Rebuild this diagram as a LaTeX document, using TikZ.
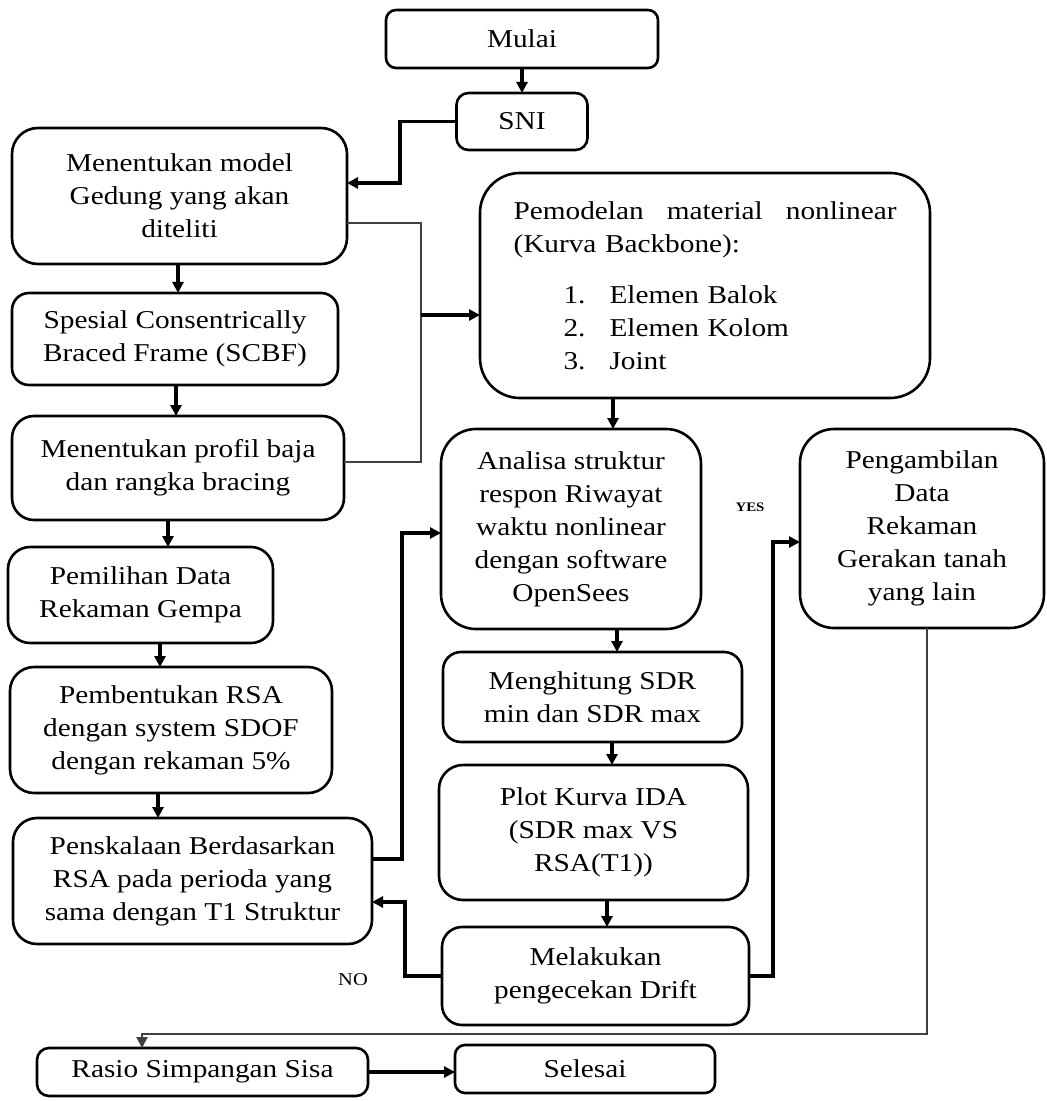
\documentclass[tikz,border=0pt]{standalone}
\usepackage{fontspec}
\setmainfont{Liberation Serif}[FakeStretch=1.14]
\usetikzlibrary{arrows.meta,positioning}

\begin{document}
\begin{tikzpicture}[x=1pt,y=-1pt,
  font=\fontsize{12.85}{16.5}\selectfont,
  box/.style={draw,line width=1.3pt,align=center,inner sep=2pt,outer sep=0pt},
  ar/.style={-{Triangle[length=5.5pt,width=5.5pt]},line width=1.7pt},
  thin/.style={draw=black!75,line width=1pt},
  lbl/.style={inner sep=0pt}]
  \useasboundingbox (0,0) rectangle (523,550.5);
  % start
  \node[box,anchor=north west,minimum width=136pt,minimum height=29pt,rounded corners=5pt] (mulai) at (193,5) {Mulai};
  \node[box,below=12.5pt of mulai,minimum width=65.5pt,minimum height=28.5pt,rounded corners=6pt] (sni) {SNI};
  % left column
  \node[box,anchor=north west,minimum width=167.5pt,minimum height=68pt,rounded corners=13pt] (model) at (6,64) {Menentukan model\\Gedung yang akan\\diteliti};
  \node[box,below=14.5pt of model.south west,anchor=north west,minimum width=163pt,minimum height=46pt,rounded corners=8.5pt] (scbf) {Spesial Consentrically\\Braced Frame (SCBF)};
  \node[box,below=15.5pt of scbf.south west,anchor=north west,minimum width=166pt,minimum height=52pt,rounded corners=11pt] (profil) {Menentukan profil baja\\dan rangka bracing};
  \node[box,below=13.5pt of profil.south west,anchor=north west,xshift=-2pt,minimum width=132.5pt,minimum height=48pt,rounded corners=11pt] (pemilihan) {Pemilihan Data\\Rekaman Gempa};
  \node[box,below=12pt of pemilihan.south west,anchor=north west,xshift=1pt,minimum width=161pt,minimum height=63pt,rounded corners=12pt] (rsa) {Pembentukan RSA\\dengan system SDOF\\dengan rekaman 5\%};
  \node[box,below=12.5pt of rsa.south west,anchor=north west,xshift=1.5pt,minimum width=179.5pt,minimum height=63pt,rounded corners=12pt] (skala) {Penskalaan Berdasarkan\\RSA pada perioda yang\\sama dengan T1 Struktur};
  % right column
  \node[box,anchor=north west,align=left,text width=191.5pt,inner xsep=16.75pt,minimum height=112.5pt,rounded corners=20pt] (pemodelan) at (240,86.5)
    {\makebox[191.5pt][l]{Pemodelan\hfill material\hfill nonlinear}\\(Kurva Backbone):\\[9pt]
     \hspace*{25pt}\makebox[23pt][l]{1.}Elemen Balok\\
     \hspace*{25pt}\makebox[23pt][l]{2.}Elemen Kolom\\
     \hspace*{25pt}\makebox[23pt][l]{3.}Joint};
  \node[box,anchor=north west,minimum width=130pt,minimum height=100pt,rounded corners=17.5pt] (analisa) at (220.5,214.5) {Analisa struktur\\respon Riwayat\\waktu nonlinear\\dengan software\\OpenSees};
  \node[box,below=11.5pt of analisa.south west,anchor=north west,xshift=1pt,minimum width=149.5pt,minimum height=45pt,rounded corners=9pt] (sdr) {Menghitung SDR\\min dan SDR max};
  \node[box,below=11.5pt of sdr.south west,anchor=north west,xshift=-2pt,minimum width=154.5pt,minimum height=67.5pt,rounded corners=12pt] (ida) {Plot Kurva IDA\\(SDR max VS\\RSA(T1))};
  \node[box,below=13.5pt of ida.south west,anchor=north west,xshift=1.5pt,minimum width=153.5pt,minimum height=49pt,rounded corners=10pt] (drift) {Melakukan\\pengecekan Drift};
  \node[box,anchor=north west,minimum width=122pt,minimum height=99.5pt,rounded corners=17pt] (gerak) at (400,214.5) {Pengambilan\\Data\\Rekaman\\Gerakan tanah\\yang lain};
  % end
  \node[box,anchor=north west,minimum width=165.5pt,minimum height=24pt,rounded corners=6pt] (rasio) at (18.5,524) {Rasio Simpangan Sisa};
  \node[box,anchor=north west,minimum width=130pt,minimum height=24pt,rounded corners=5pt] (selesai) at (227.5,522.5) {Selesai};
  \node[lbl,font=\fontsize{9}{10}\selectfont] (no) at (176.5,490) {NO};
  \node[lbl,font=\bfseries\fontsize{6.5}{7}\selectfont] (yes) at (375,253.5) {YES};
  % connectors
  \draw[ar] (mulai) -- (sni);
  \draw[ar] (sni.west) -| (200,80) |- ([yshift=6.5pt]model.east);
  \draw[ar] (89,0 |- model.south) -- (89,0 |- scbf.north);
  \draw[ar] (88,0 |- scbf.south) -- (88,0 |- profil.north);
  \draw[ar] (84,0 |- profil.south) -- (84,0 |- pemilihan.north);
  \draw[ar] (80,0 |- pemilihan.south) -- (80,0 |- rsa.north);
  \draw[ar] (79,0 |- rsa.south) -- (79,0 |- skala.north);
  \coordinate (bus) at (210.5,157.5);
  \draw[thin] ([yshift=-13.5pt]model.east) -| (bus) |- ([yshift=3pt]profil.east);
  \draw[ar] (bus) -- (bus -| pemodelan.west);
  \draw[ar] (306.5,0 |- pemodelan.south) -- (306.5,0 |- analisa.north);
  \draw[ar] (308.5,0 |- analisa.south) -- (308.5,0 |- sdr.north);
  \draw[ar] (306,0 |- sdr.south) -- (306,0 |- ida.north);
  \draw[ar] (303.5,0 |- ida.south) -- (303.5,0 |- drift.north);
  \draw[ar] ([yshift=11pt]skala.east) -| (201,350) |- ([yshift=-2pt]analisa.west);
  \draw[ar] (drift.west) -| (202.5,470) |- ([yshift=-10.5pt]skala.east);
  \draw[ar] (drift.east) -| (386.5,400) |- ([yshift=-6.75pt]gerak.west);
  \draw[thin,-{Triangle[length=5.5pt,width=5.5pt]}] (463.5,0 |- gerak.south) |- (71,517) -- (71,0 |- rasio.north);
  \draw[ar] (rasio.east) -- (rasio.east -| selesai.west);
\end{tikzpicture}
\end{document}
